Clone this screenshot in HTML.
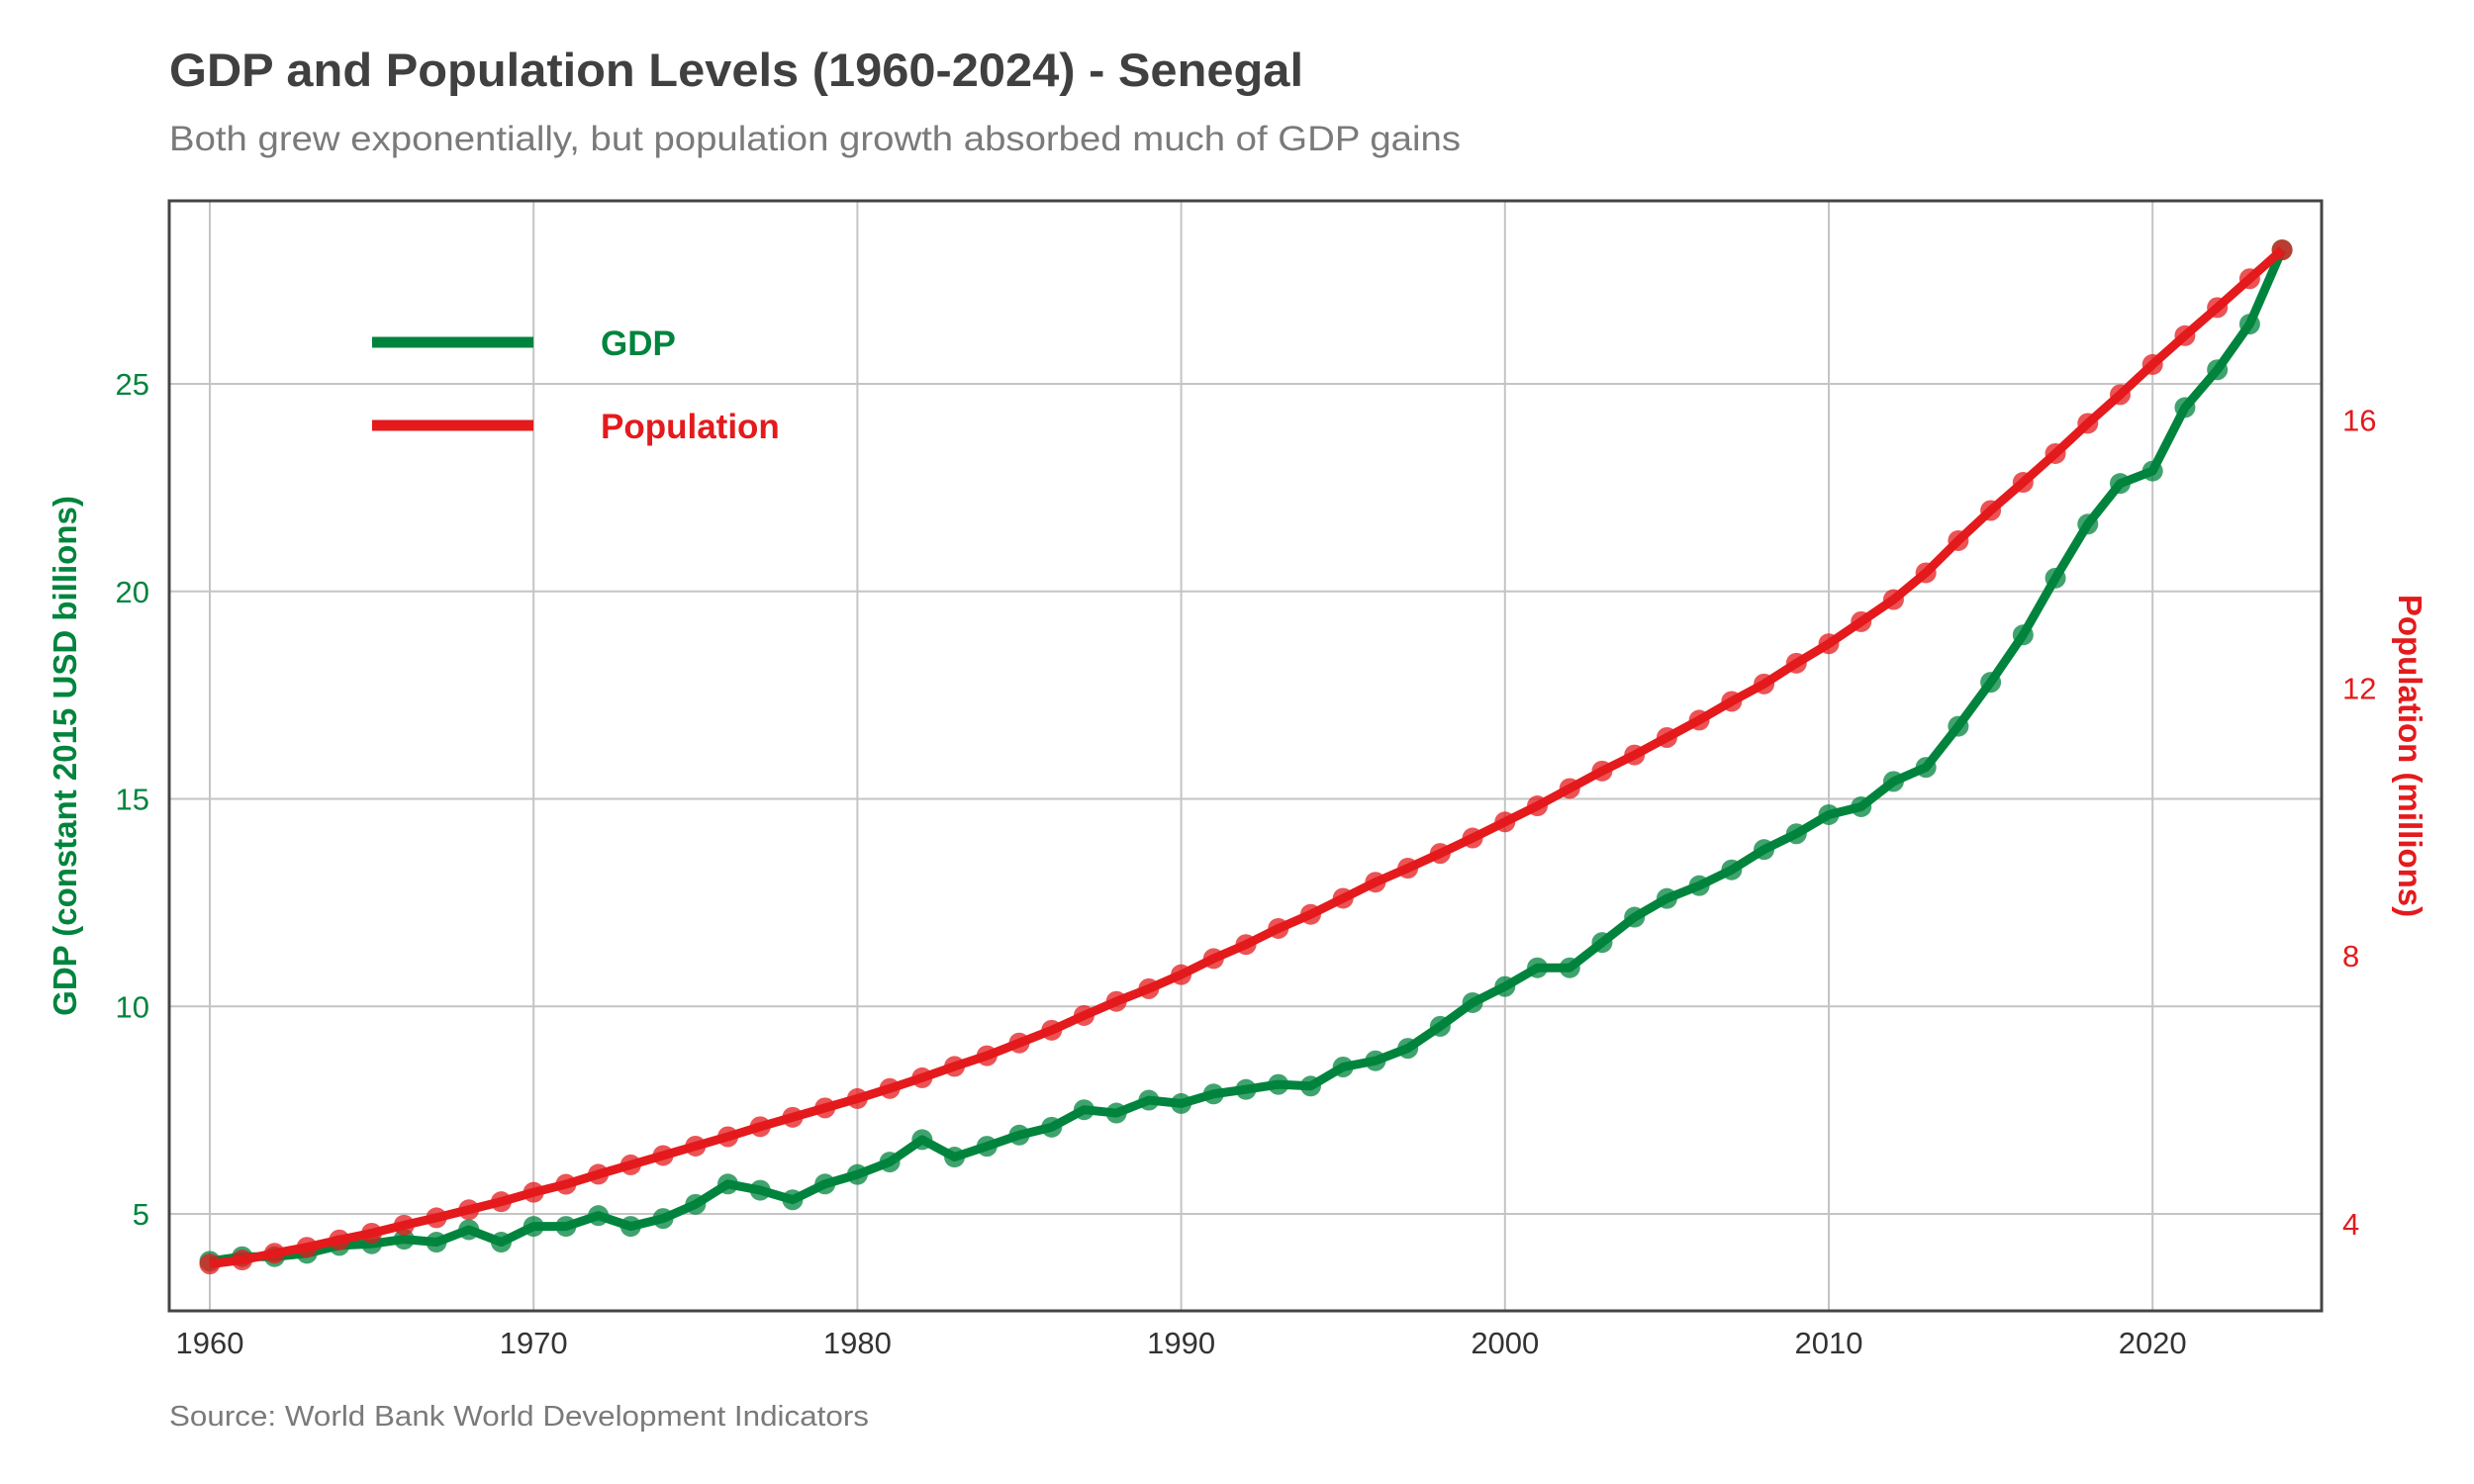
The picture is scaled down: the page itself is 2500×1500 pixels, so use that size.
<!DOCTYPE html>
<html><head><meta charset="utf-8"><style>
html,body{margin:0;padding:0;background:#fff;}
svg{display:block;font-family:"Liberation Sans",Arial,sans-serif;}
</style></head><body>
<svg id="chart" width="2500" height="1500" viewBox="0 0 2500 1500" xmlns="http://www.w3.org/2000/svg">
<rect width="2500" height="1500" fill="#fff"/>
<text x="171" y="87" font-size="47" font-weight="bold" fill="#404040" textLength="1146" lengthAdjust="spacingAndGlyphs">GDP and Population Levels (1960-2024) - Senegal</text>
<text x="171" y="152" font-size="35" fill="#7a7a7a" textLength="1305" lengthAdjust="spacingAndGlyphs">Both grew exponentially, but population growth absorbed much of GDP gains</text>
<text x="171" y="1441" font-size="29" fill="#7a7a7a" textLength="707" lengthAdjust="spacingAndGlyphs">Source: World Bank World Development Indicators</text>
<g id="grid"></g>
<g id="series"></g>
<rect x="171" y="203" width="2175" height="1122" fill="none" stroke="#444" stroke-width="3"/>
<g id="axes"></g>
<text transform="translate(77,764) rotate(-90)" text-anchor="middle" font-size="33" font-weight="bold" fill="#00843d">GDP (constant 2015 USD billions)</text>
<text transform="translate(2424,764) rotate(90)" text-anchor="middle" font-size="33" font-weight="bold" fill="#e41a1c">Population (millions)</text>
<g>
<line x1="376" y1="346" x2="539" y2="346" stroke="#00843d" stroke-width="11"/>
<text x="607" y="359" font-size="35" font-weight="bold" fill="#00843d">GDP</text>
<line x1="376" y1="430" x2="539" y2="430" stroke="#e41a1c" stroke-width="11"/>
<text x="607" y="443" font-size="35" font-weight="bold" fill="#e41a1c">Population</text>
</g>
</svg>
<script>
const years = [];
for (let y = 1960; y <= 2024; y++) years.push(y);
const gdpValues = [3.86,3.97,3.97,4.05,4.24,4.28,4.39,4.32,4.62,4.32,4.70,4.70,4.96,4.70,4.89,5.23,5.72,5.57,5.34,5.72,5.95,6.25,6.79,6.37,6.63,6.90,7.09,7.51,7.43,7.74,7.66,7.89,8.00,8.12,8.08,8.54,8.69,8.99,9.52,10.09,10.48,10.93,10.93,11.54,12.15,12.60,12.91,13.29,13.78,14.16,14.62,14.81,15.42,15.76,16.75,17.81,18.95,20.32,21.62,22.60,22.90,24.43,25.34,26.44,28.23];
const popValues = [3.40,3.46,3.56,3.65,3.76,3.86,3.98,4.09,4.21,4.33,4.47,4.59,4.74,4.88,5.02,5.16,5.30,5.45,5.59,5.73,5.87,6.02,6.18,6.35,6.51,6.70,6.89,7.11,7.32,7.51,7.72,7.96,8.17,8.41,8.62,8.86,9.10,9.31,9.53,9.76,10.00,10.24,10.50,10.76,11.00,11.26,11.52,11.80,12.06,12.37,12.66,12.99,13.32,13.72,14.20,14.65,15.07,15.50,15.95,16.38,16.83,17.26,17.68,18.11,18.54];
const xTicks = [1960,1970,1980,1990,2000,2010,2020];
const gdpTicks = [5,10,15,20,25];
const popTicks = [4,8,12,16];

const NS = "http://www.w3.org/2000/svg";
const xScale = yr => 212 + (yr - 1960) * 32.72;
const gdpScale = v => 1227 - (v - 5) * 41.95;
const popScale = v => 1237 - (v - 4) * 67.7;
function mk(tag, attrs, parent) {
  const e = document.createElementNS(NS, tag);
  for (const k in attrs) e.setAttribute(k, attrs[k]);
  parent.appendChild(e);
  return e;
}
const grid = document.getElementById('grid');
const axes = document.getElementById('axes');
const series = document.getElementById('series');
xTicks.forEach(t => {
  const l = mk('line', {x1: xScale(t), x2: xScale(t), y1: 203, y2: 1325, stroke: '#c4c4c4', 'stroke-width': 2}, grid);
  
  
  const tx = mk('text', {x: xScale(t), y: 1368, 'text-anchor': 'middle', 'font-size': 31, fill: '#333'}, axes);
  tx.textContent = t;
  
  
});
gdpTicks.forEach(t => {
  const l = mk('line', {x1: 171, x2: 2346, y1: gdpScale(t), y2: gdpScale(t), stroke: '#c4c4c4', 'stroke-width': 2}, grid);
  
  
  const tx = mk('text', {x: 151, y: gdpScale(t) + 11, 'text-anchor': 'end', 'font-size': 31, fill: '#00843d'}, axes);
  tx.textContent = t;
  
  
});
popTicks.forEach(t => {
  const tx = mk('text', {x: 2367, y: popScale(t) + 11, 'text-anchor': 'start', 'font-size': 31, fill: '#e41a1c'}, axes);
  tx.textContent = t;
  
  
});
function drawSeries(vals, scale, color, name) {
  const pts = vals.map((v, i) => xScale(years[i]) + ',' + scale(v)).join(' ');
  const pl = mk('polyline', {points: pts, fill: 'none', stroke: color, 'stroke-width': 9, 'stroke-linejoin': 'round'}, series);
  
  
  vals.forEach((v, i) => {
    const c = mk('circle', {cx: xScale(years[i]), cy: scale(v), r: 10.5, fill: color, 'fill-opacity': 0.75}, series);
    
    
  });
}
drawSeries(gdpValues, gdpScale, '#00843d', 'gdp');
drawSeries(popValues, popScale, '#e41a1c', 'population');
</script>
</body></html>
